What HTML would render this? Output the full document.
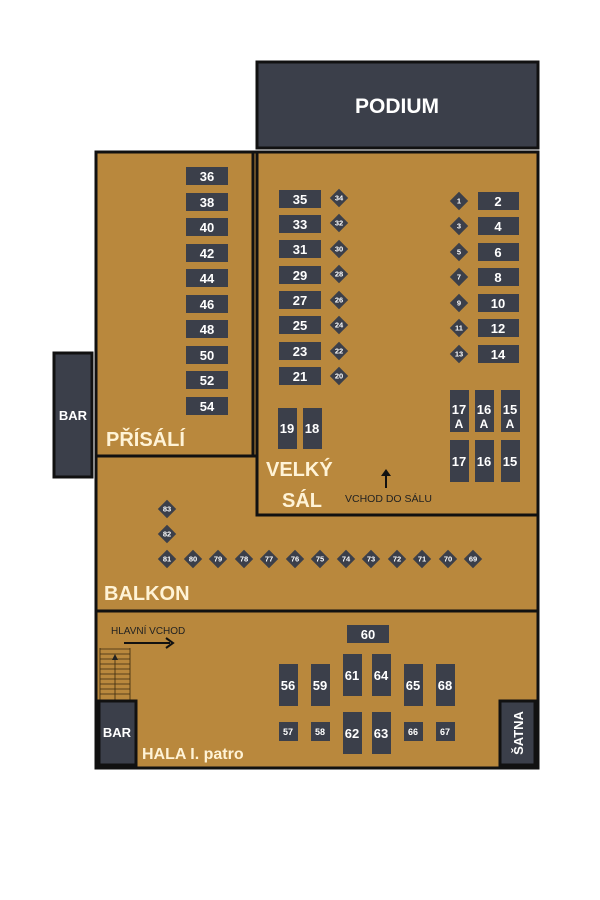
<!DOCTYPE html>
<html><head><meta charset="utf-8"><style>
html,body{margin:0;padding:0;background:#fff;width:600px;height:900px;overflow:hidden}
svg{display:block}
text{font-family:"Liberation Sans","DejaVu Sans",sans-serif;font-weight:bold}
.t{fill:#3b3f4a}
.w{fill:#fff;text-anchor:middle}
.lbl{fill:#fff3d6;font-size:20px}
</style></head><body>
<svg width="600" height="900" viewBox="0 0 600 900" xmlns="http://www.w3.org/2000/svg">
<!-- main floor -->
<rect x="96" y="152" width="442" height="616" fill="#b9883d" stroke="#111" stroke-width="3"/>
<line x1="96" y1="611" x2="538" y2="611" stroke="#111" stroke-width="3"/>
<line x1="96" y1="456" x2="256" y2="456" stroke="#111" stroke-width="3"/>
<rect x="96" y="152" width="157" height="304" fill="none" stroke="#111" stroke-width="3"/>
<rect x="257" y="152" width="281" height="363" fill="none" stroke="#111" stroke-width="3"/>
<!-- podium -->
<rect x="257" y="62" width="281" height="86" fill="#3b3f4a" stroke="#111" stroke-width="3"/>
<text x="397" y="113" class="w" font-size="21">PODIUM</text>
<!-- bar left -->
<rect x="54" y="353" width="38" height="124" fill="#3b3f4a" stroke="#111" stroke-width="3"/>
<text x="73" y="420" class="w" font-size="13">BAR</text>
<!-- prisali tables -->
<g font-size="13">
<rect class="t" x="186" y="167" width="42" height="18"/><text class="w" x="207" y="181">36</text>
<rect class="t" x="186" y="193" width="42" height="18"/><text class="w" x="207" y="207">38</text>
<rect class="t" x="186" y="218" width="42" height="18"/><text class="w" x="207" y="232">40</text>
<rect class="t" x="186" y="244" width="42" height="18"/><text class="w" x="207" y="258">42</text>
<rect class="t" x="186" y="269" width="42" height="18"/><text class="w" x="207" y="283">44</text>
<rect class="t" x="186" y="295" width="42" height="18"/><text class="w" x="207" y="309">46</text>
<rect class="t" x="186" y="320" width="42" height="18"/><text class="w" x="207" y="334">48</text>
<rect class="t" x="186" y="346" width="42" height="18"/><text class="w" x="207" y="360">50</text>
<rect class="t" x="186" y="371" width="42" height="18"/><text class="w" x="207" y="385">52</text>
<rect class="t" x="186" y="397" width="42" height="18"/><text class="w" x="207" y="411">54</text>
</g>
<text x="106" y="446" class="lbl">PŘÍSÁLÍ</text>
<!-- velky sal left tables -->
<g font-size="13">
<rect class="t" x="279" y="190" width="42" height="18"/><text class="w" x="300" y="204">35</text>
<rect class="t" x="279" y="215" width="42" height="18"/><text class="w" x="300" y="229">33</text>
<rect class="t" x="279" y="240" width="42" height="18"/><text class="w" x="300" y="254">31</text>
<rect class="t" x="279" y="266" width="42" height="18"/><text class="w" x="300" y="280">29</text>
<rect class="t" x="279" y="291" width="42" height="18"/><text class="w" x="300" y="305">27</text>
<rect class="t" x="279" y="316" width="42" height="18"/><text class="w" x="300" y="330">25</text>
<rect class="t" x="279" y="342" width="42" height="18"/><text class="w" x="300" y="356">23</text>
<rect class="t" x="279" y="367" width="42" height="18"/><text class="w" x="300" y="381">21</text>
<rect class="t" x="478" y="192" width="41" height="18"/><text class="w" x="498" y="206">2</text>
<rect class="t" x="478" y="217" width="41" height="18"/><text class="w" x="498" y="231">4</text>
<rect class="t" x="478" y="243" width="41" height="18"/><text class="w" x="498" y="257">6</text>
<rect class="t" x="478" y="268" width="41" height="18"/><text class="w" x="498" y="282">8</text>
<rect class="t" x="478" y="294" width="41" height="18"/><text class="w" x="498" y="308">10</text>
<rect class="t" x="478" y="319" width="41" height="18"/><text class="w" x="498" y="333">12</text>
<rect class="t" x="478" y="345" width="41" height="18"/><text class="w" x="498" y="359">14</text>
<rect class="t" x="278" y="408" width="19" height="41"/><text class="w" x="287" y="433">19</text>
<rect class="t" x="303" y="408" width="19" height="41"/><text class="w" x="312" y="433">18</text>
<rect class="t" x="450" y="390" width="19" height="42"/><text class="w" x="459" y="414">17</text><text class="w" x="459" y="428" font-size="12">A</text>
<rect class="t" x="475" y="390" width="19" height="42"/><text class="w" x="484" y="414">16</text><text class="w" x="484" y="428" font-size="12">A</text>
<rect class="t" x="501" y="390" width="19" height="42"/><text class="w" x="510" y="414">15</text><text class="w" x="510" y="428" font-size="12">A</text>
<rect class="t" x="450" y="440" width="19" height="42"/><text class="w" x="459" y="466">17</text>
<rect class="t" x="475" y="440" width="19" height="42"/><text class="w" x="484" y="466">16</text>
<rect class="t" x="501" y="440" width="19" height="42"/><text class="w" x="510" y="466">15</text>
</g>
<!-- diamonds -->
<g font-size="7.5">
<g transform="translate(339,198)"><rect class="t" x="-6.5" y="-6.5" width="13" height="13" transform="rotate(45)"/><text class="w" y="2.7">34</text></g>
<g transform="translate(339,223)"><rect class="t" x="-6.5" y="-6.5" width="13" height="13" transform="rotate(45)"/><text class="w" y="2.7">32</text></g>
<g transform="translate(339,249)"><rect class="t" x="-6.5" y="-6.5" width="13" height="13" transform="rotate(45)"/><text class="w" y="2.7">30</text></g>
<g transform="translate(339,274)"><rect class="t" x="-6.5" y="-6.5" width="13" height="13" transform="rotate(45)"/><text class="w" y="2.7">28</text></g>
<g transform="translate(339,300)"><rect class="t" x="-6.5" y="-6.5" width="13" height="13" transform="rotate(45)"/><text class="w" y="2.7">26</text></g>
<g transform="translate(339,325)"><rect class="t" x="-6.5" y="-6.5" width="13" height="13" transform="rotate(45)"/><text class="w" y="2.7">24</text></g>
<g transform="translate(339,351)"><rect class="t" x="-6.5" y="-6.5" width="13" height="13" transform="rotate(45)"/><text class="w" y="2.7">22</text></g>
<g transform="translate(339,376)"><rect class="t" x="-6.5" y="-6.5" width="13" height="13" transform="rotate(45)"/><text class="w" y="2.7">20</text></g>
<g transform="translate(459,201)"><rect class="t" x="-6.5" y="-6.5" width="13" height="13" transform="rotate(45)"/><text class="w" y="2.7">1</text></g>
<g transform="translate(459,226)"><rect class="t" x="-6.5" y="-6.5" width="13" height="13" transform="rotate(45)"/><text class="w" y="2.7">3</text></g>
<g transform="translate(459,252)"><rect class="t" x="-6.5" y="-6.5" width="13" height="13" transform="rotate(45)"/><text class="w" y="2.7">5</text></g>
<g transform="translate(459,277)"><rect class="t" x="-6.5" y="-6.5" width="13" height="13" transform="rotate(45)"/><text class="w" y="2.7">7</text></g>
<g transform="translate(459,303)"><rect class="t" x="-6.5" y="-6.5" width="13" height="13" transform="rotate(45)"/><text class="w" y="2.7">9</text></g>
<g transform="translate(459,328)"><rect class="t" x="-6.5" y="-6.5" width="13" height="13" transform="rotate(45)"/><text class="w" y="2.7">11</text></g>
<g transform="translate(459,354)"><rect class="t" x="-6.5" y="-6.5" width="13" height="13" transform="rotate(45)"/><text class="w" y="2.7">13</text></g>
<g transform="translate(167,509)"><rect class="t" x="-6.5" y="-6.5" width="13" height="13" transform="rotate(45)"/><text class="w" y="2.7">83</text></g>
<g transform="translate(167,534)"><rect class="t" x="-6.5" y="-6.5" width="13" height="13" transform="rotate(45)"/><text class="w" y="2.7">82</text></g>
<g transform="translate(167,559)"><rect class="t" x="-6.5" y="-6.5" width="13" height="13" transform="rotate(45)"/><text class="w" y="2.7">81</text></g>
<g transform="translate(193,559)"><rect class="t" x="-6.5" y="-6.5" width="13" height="13" transform="rotate(45)"/><text class="w" y="2.7">80</text></g>
<g transform="translate(218,559)"><rect class="t" x="-6.5" y="-6.5" width="13" height="13" transform="rotate(45)"/><text class="w" y="2.7">79</text></g>
<g transform="translate(244,559)"><rect class="t" x="-6.5" y="-6.5" width="13" height="13" transform="rotate(45)"/><text class="w" y="2.7">78</text></g>
<g transform="translate(269,559)"><rect class="t" x="-6.5" y="-6.5" width="13" height="13" transform="rotate(45)"/><text class="w" y="2.7">77</text></g>
<g transform="translate(295,559)"><rect class="t" x="-6.5" y="-6.5" width="13" height="13" transform="rotate(45)"/><text class="w" y="2.7">76</text></g>
<g transform="translate(320,559)"><rect class="t" x="-6.5" y="-6.5" width="13" height="13" transform="rotate(45)"/><text class="w" y="2.7">75</text></g>
<g transform="translate(346,559)"><rect class="t" x="-6.5" y="-6.5" width="13" height="13" transform="rotate(45)"/><text class="w" y="2.7">74</text></g>
<g transform="translate(371,559)"><rect class="t" x="-6.5" y="-6.5" width="13" height="13" transform="rotate(45)"/><text class="w" y="2.7">73</text></g>
<g transform="translate(397,559)"><rect class="t" x="-6.5" y="-6.5" width="13" height="13" transform="rotate(45)"/><text class="w" y="2.7">72</text></g>
<g transform="translate(422,559)"><rect class="t" x="-6.5" y="-6.5" width="13" height="13" transform="rotate(45)"/><text class="w" y="2.7">71</text></g>
<g transform="translate(448,559)"><rect class="t" x="-6.5" y="-6.5" width="13" height="13" transform="rotate(45)"/><text class="w" y="2.7">70</text></g>
<g transform="translate(473,559)"><rect class="t" x="-6.5" y="-6.5" width="13" height="13" transform="rotate(45)"/><text class="w" y="2.7">69</text></g>
</g>
<text x="266" y="476" class="lbl">VELKÝ</text>
<text x="282" y="507" class="lbl">SÁL</text>
<line x1="386" y1="488" x2="386" y2="474" stroke="#111" stroke-width="2"/>
<polygon points="381,476 386,469 391,476" fill="#111"/>
<text x="345" y="502" font-size="10.5" font-weight="normal" style="font-weight:normal" fill="#222">VCHOD DO SÁLU</text>
<text x="104" y="600" class="lbl">BALKON</text>
<!-- hala -->
<text x="111" y="634" font-size="10" style="font-weight:normal" fill="#222">HLAVNÍ VCHOD</text>
<line x1="124" y1="643" x2="170" y2="643" stroke="#111" stroke-width="2"/>
<polyline points="166,638 173,643 166,648" fill="none" stroke="#111" stroke-width="2"/>
<g stroke="#3a2a10" stroke-width="0.8">
<line x1="100" y1="648" x2="100" y2="700"/><line x1="130" y1="648" x2="130" y2="700"/>
<line x1="100" y1="649" x2="130" y2="649"/><line x1="100" y1="654" x2="130" y2="654"/><line x1="100" y1="659" x2="130" y2="659"/><line x1="100" y1="664" x2="130" y2="664"/><line x1="100" y1="669" x2="130" y2="669"/><line x1="100" y1="674" x2="130" y2="674"/><line x1="100" y1="679" x2="130" y2="679"/><line x1="100" y1="684" x2="130" y2="684"/><line x1="100" y1="689" x2="130" y2="689"/><line x1="100" y1="694" x2="130" y2="694"/>
<line x1="115" y1="655" x2="115" y2="700"/>
</g>
<polygon points="112,660 115,654 118,660" fill="#222"/>
<rect x="99" y="701" width="37" height="64" fill="#3b3f4a" stroke="#111" stroke-width="3"/>
<text x="117" y="737" class="w" font-size="13">BAR</text>
<rect x="500" y="701" width="35" height="64" fill="#3b3f4a" stroke="#111" stroke-width="3"/>
<text transform="translate(523,733) rotate(-90)" class="w" font-size="13">ŠATNA</text>
<text x="142" y="759" fill="#fff3d6" font-size="16">HALA I. patro</text>
<g font-size="13">
<rect class="t" x="347" y="625" width="42" height="18"/><text class="w" x="368" y="639">60</text>
<rect class="t" x="279" y="664" width="19" height="42"/><text class="w" x="288" y="690">56</text>
<rect class="t" x="311" y="664" width="19" height="42"/><text class="w" x="320" y="690">59</text>
<rect class="t" x="343" y="654" width="19" height="42"/><text class="w" x="352" y="680">61</text>
<rect class="t" x="372" y="654" width="19" height="42"/><text class="w" x="381" y="680">64</text>
<rect class="t" x="404" y="664" width="19" height="42"/><text class="w" x="413" y="690">65</text>
<rect class="t" x="436" y="664" width="19" height="42"/><text class="w" x="445" y="690">68</text>
<rect class="t" x="343" y="712" width="19" height="42"/><text class="w" x="352" y="738">62</text>
<rect class="t" x="372" y="712" width="19" height="42"/><text class="w" x="381" y="738">63</text>
</g>
<g font-size="9">
<rect class="t" x="279" y="722" width="19" height="19"/><text class="w" x="288" y="735">57</text>
<rect class="t" x="311" y="722" width="19" height="19"/><text class="w" x="320" y="735">58</text>
<rect class="t" x="404" y="722" width="19" height="19"/><text class="w" x="413" y="735">66</text>
<rect class="t" x="436" y="722" width="19" height="19"/><text class="w" x="445" y="735">67</text>
</g>
</svg>
</body></html>
